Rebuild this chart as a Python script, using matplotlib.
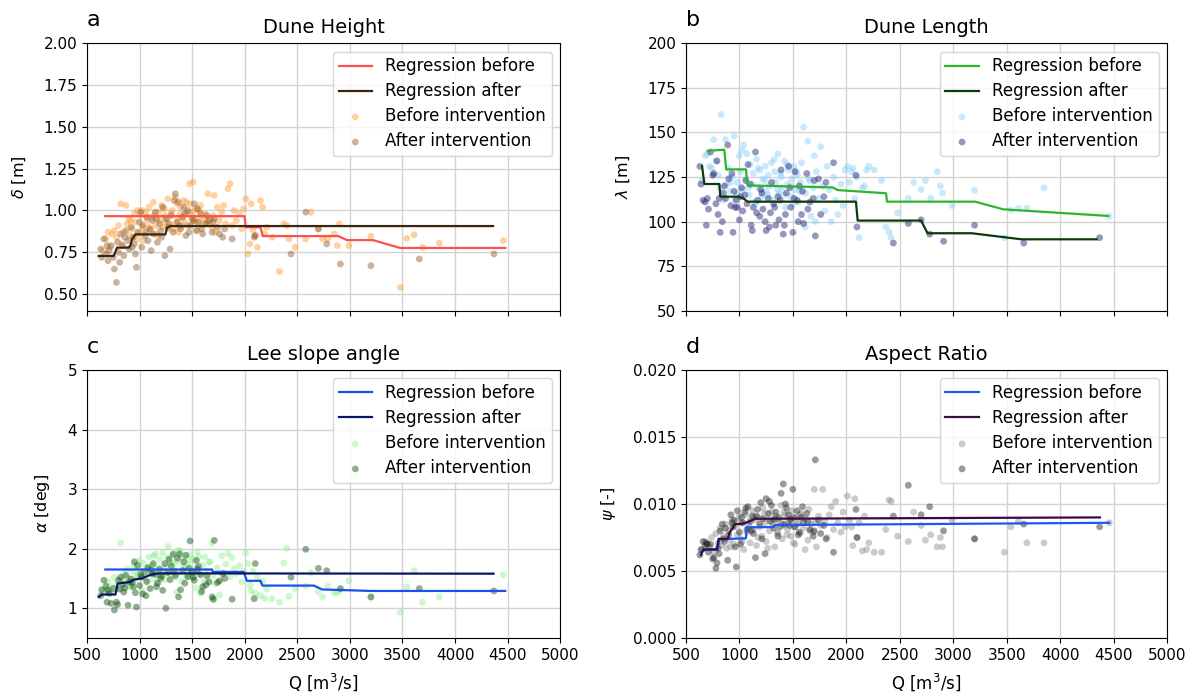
import matplotlib
matplotlib.use("Agg")
import matplotlib.pyplot as plt
import numpy as np

# ---------------- data ----------------
q_before = [650, 680, 700, 720, 740, 760, 780, 800, 820, 830,
            850, 870, 880, 900, 910, 930, 950, 960, 980, 1000,
            1010, 1030, 1040, 1060, 1070, 1090, 1100, 1120, 1130, 1150,
            1160, 1180, 1190, 1210, 1220, 1240, 1250, 1270, 1280, 1300,
            1310, 1330, 1340, 1360, 1370, 1390, 1400, 1420, 1430, 1450,
            1460, 1480, 1490, 1510, 1520, 1540, 1550, 1570, 1580, 1600,
            1620, 1640, 1650, 1670, 1690, 1700, 1720, 1740, 1760, 1780,
            1800, 1820, 1840, 1860, 1880, 1900, 1920, 1950, 1970, 1990,
            915, 975, 1025, 1085, 1135, 1175, 1235, 1265, 1325, 1355,
            1385, 1415, 1445, 1475, 1505, 1535, 1565, 1615, 1660, 1710,
            2010, 2030, 2050, 2060, 2080, 2100, 2120, 2150, 2170, 2190,
            2210, 2260, 2330, 2370, 2400, 2420, 2480, 2580, 2630, 2700,
            2740, 2790, 2850, 2880, 2900, 2990, 3200, 3480, 3540, 3610,
            3690, 3850, 4460]

q_after = [630, 640, 660, 680, 700, 710, 730, 750, 760, 780,
           790, 800, 820, 840, 850, 870, 890, 900, 920, 940,
           950, 970, 980, 1000, 1020, 1030, 1050, 1070, 1080, 1100,
           1120, 1130, 1150, 1170, 1190, 1200, 1220, 1240, 1250, 1270,
           1290, 1300, 1320, 1340, 1360, 1370, 1390, 1410, 1420, 1440,
           1460, 1480, 1500, 1520, 1540, 1560, 1580, 1600, 1630, 1660,
           1690, 1710, 1740, 1760, 1790, 1810, 1880, 2090, 2100, 2440,
           2580, 2700, 2780, 2910, 3200, 3660, 4370,
           860, 930, 1010, 1060, 1110, 1160, 1210, 1280, 1330, 1380,
           1430, 1470, 1510, 1550, 1590, 1640, 1700, 690, 810, 960]

height_before = [0.76, 0.83, 0.87, 0.78, 0.86, 0.88, 0.84, 0.91, 1.04, 0.80,
                 0.87, 1.03, 0.92, 0.95, 0.85, 0.89, 0.98, 0.93, 1.00, 0.87,
                 0.97, 0.90, 0.82, 0.99, 0.94, 1.02, 0.88, 0.96, 1.05, 0.91,
                 0.86, 0.99, 0.94, 1.03, 0.90, 0.97, 0.93, 1.07, 0.89, 0.98,
                 1.00, 0.92, 1.08, 0.95, 0.87, 1.02, 0.96, 1.06, 0.93, 0.99,
                 0.91, 1.04, 0.97, 1.17, 0.94, 1.01, 0.88, 0.96, 1.03, 0.92,
                 0.98, 0.93, 1.10, 0.95, 0.90, 0.97, 0.87, 1.02, 0.94, 0.99,
                 1.03, 0.92, 1.13, 1.16, 0.91, 1.00, 0.94, 0.98, 0.89, 1.01,
                 0.94, 0.83, 1.00, 0.90, 0.97, 0.85, 1.01, 0.95, 0.89, 1.04,
                 0.98, 0.91, 1.05, 1.16, 0.99, 0.93, 1.00, 0.95, 0.92, 1.09,
                 1.07, 0.74, 0.80, 1.04, 0.88, 0.85, 0.78, 1.06, 1.02, 0.86,
                 0.90, 0.84, 0.635, 0.92, 0.91, 0.83, 0.78, 0.83, 0.99, 0.89,
                 0.83, 0.83, 0.86, 0.79, 0.92, 0.79, 0.847, 0.54, 0.833, 0.855,
                 0.78, 0.805, 0.82]

height_after = [0.77, 0.72, 0.83, 0.74, 0.70, 0.76, 0.79, 0.72, 0.65, 0.57,
                0.81, 0.75, 0.86, 0.79, 0.73, 0.88, 0.82, 0.77, 0.90, 0.84,
                0.80, 0.66, 0.87, 0.93, 0.78, 0.91, 0.85, 0.96, 0.82, 0.89,
                0.94, 0.86, 0.99, 0.81, 0.92, 0.88, 1.02, 0.73, 0.95, 0.90,
                0.77, 0.97, 0.87, 1.10, 0.93, 1.05, 0.89, 0.96, 1.02, 0.85,
                1.00, 0.91, 0.95, 1.04, 0.88, 0.93, 0.98, 0.86, 0.92, 0.94,
                0.87, 0.95, 0.90, 0.86, 0.84, 0.89, 0.83, 0.84, 0.85, 0.74,
                0.99, 0.89, 0.80, 0.68, 0.67, 0.71, 0.74,
                0.84, 0.78, 0.99, 0.87, 0.76, 0.95, 0.84, 0.92, 1.06, 0.91,
                0.98, 0.87, 0.94, 1.01, 0.89, 0.97, 0.93, 0.79, 0.69, 0.74]

length_before = [123, 137, 138, 131, 130, 146, 134, 126, 119, 160,
                 112, 146, 121, 130, 117, 125, 148, 113, 122, 137,
                 128, 118, 143, 124, 138, 115, 132, 121, 127, 110,
                 135, 119, 129, 114, 124, 131, 117, 126, 120, 133,
                 112, 128, 122, 138, 116, 125, 119, 134, 108, 121,
                 129, 114, 124, 131, 118, 126, 111, 122, 133, 153,
                 116, 145, 124, 103, 119, 137, 128, 113, 142, 120,
                 106, 131, 118, 100, 125, 112, 104, 121, 109, 129,
                 122, 116, 140, 119, 111, 130, 123, 115, 135, 118,
                 127, 115, 132, 120, 110, 128, 117, 97, 123, 100,
                 131, 122, 128, 130, 113, 125, 91, 119, 120, 129,
                 131, 129, 123, 97, 94, 91, 105, 113, 122, 118,
                 123, 113, 128, 120, 116, 109, 117.5, 91, 106.5, 107.5,
                 107.5, 119, 103]

length_after = [131, 121, 112, 111, 113, 107, 139, 126, 127, 110,
                134, 104, 94, 100, 116, 113, 143, 124, 109, 94,
                117, 112, 108, 101, 119, 106, 115, 110, 132, 121,
                95, 108, 139, 112, 103, 118, 107, 100, 95, 113,
                105, 122, 110, 98, 114, 101, 129, 93, 98, 116,
                131, 108, 94, 128, 112, 120, 104, 99, 127, 111,
                113, 92, 124, 104, 114, 122, 133, 126, 97, 88,
                99, 101, 93, 89, 98, 88, 91,
                120, 127, 114, 123, 98, 105, 116, 97, 108, 112,
                104, 119, 113, 100, 117, 107, 123, 98, 113, 108]

lee_before = [1.28, 1.31, 1.45, 1.36, 1.25, 1.52, 1.40, 1.33, 2.09, 1.47,
              1.58, 1.42, 1.66, 1.50, 1.38, 1.62, 1.71, 1.47, 1.55, 1.80,
              1.63, 1.52, 1.75, 1.44, 1.68, 1.86, 1.58, 1.72, 1.49, 1.91,
              1.66, 1.54, 1.82, 1.61, 1.93, 1.48, 1.70, 2.04, 1.57, 1.76,
              1.88, 1.64, 1.52, 1.79, 1.97, 1.60, 1.45, 1.84, 1.69, 1.56,
              1.74, 1.90, 1.62, 1.51, 1.83, 1.67, 1.95, 1.58, 1.25, 1.72,
              1.86, 1.62, 1.49, 1.78, 2.09, 1.55, 1.41, 1.68, 1.22, 1.88,
              1.60, 1.74, 1.92, 1.53, 1.85, 1.66, 1.58, 1.71, 1.44, 1.62,
              1.35, 1.57, 1.30, 1.68, 1.88, 1.42, 1.60, 1.85, 1.75, 1.27,
              1.96, 1.70, 1.53, 1.81, 1.59, 1.34, 1.87, 1.45, 1.77, 1.15,
              1.93, 1.75, 1.39, 1.29, 1.62, 1.25, 1.52, 1.21, 1.45, 1.16,
              1.32, 1.16, 1.10, 1.76, 2.01, 1.20, 1.33, 1.37, 1.60, 1.28,
              1.19, 1.37, 1.26, 1.26, 1.30, 1.46, 1.18, 0.93, 1.36, 1.63,
              1.10, 1.19, 1.56]

lee_after = [1.21, 1.31, 1.47, 1.37, 1.30, 1.25, 1.08, 1.33, 0.97, 1.10,
             1.06, 1.47, 1.52, 1.40, 1.27, 1.55, 1.05, 1.44, 1.49, 1.36,
             1.78, 1.02, 1.72, 1.38, 1.52, 1.24, 1.61, 1.45, 1.68, 1.33,
             1.58, 1.75, 1.57, 1.42, 1.66, 1.50, 1.30, 1.75, 1.00, 1.60,
             1.48, 1.71, 1.91, 1.55, 1.84, 1.19, 1.31, 1.63, 1.78, 1.89,
             1.53, 2.13, 1.61, 1.47, 1.80, 1.70, 1.56, 1.36, 1.39, 1.44,
             1.19, 2.14, 1.43, 1.46, 1.58, 1.50, 1.15, 1.16, 1.75, 1.52,
             1.99, 1.67, 1.63, 1.33, 1.19, 1.33, 1.29,
             1.34, 1.43, 1.56, 1.21, 1.64, 1.36, 1.54, 1.82, 1.62, 1.91,
             1.42, 1.67, 1.52, 1.65, 1.28, 1.55, 1.15, 1.10, 1.32, 1.26]

aspect_before = [0.0066, 0.0072, 0.0070, 0.0068, 0.0075, 0.0064, 0.0078, 0.0071, 0.0082, 0.0069,
                 0.0076, 0.0085, 0.0067, 0.0080, 0.0073, 0.0088, 0.0070, 0.0083, 0.0077, 0.0091,
                 0.0074, 0.0086, 0.0066, 0.0092, 0.0079, 0.0084, 0.0071, 0.0095, 0.0081, 0.0088,
                 0.0069, 0.0090, 0.0083, 0.0076, 0.0097, 0.0086, 0.0072, 0.0089, 0.0080, 0.0094,
                 0.0085, 0.0068, 0.0091, 0.0078, 0.0087, 0.0099, 0.0074, 0.0084, 0.0092, 0.0081,
                 0.0088, 0.0076, 0.0095, 0.0083, 0.0070, 0.0090, 0.0086, 0.0078, 0.0093, 0.0082,
                 0.0089, 0.0073, 0.0096, 0.0085, 0.0079, 0.0111, 0.0068, 0.0091, 0.0084, 0.0111,
                 0.0087, 0.0075, 0.0092, 0.0098, 0.0081, 0.0102, 0.0086, 0.0079, 0.0094, 0.0083,
                 0.0068, 0.0087, 0.0072, 0.0082, 0.0090, 0.0075, 0.0093, 0.0067, 0.0088, 0.0079,
                 0.0086, 0.0094, 0.0077, 0.0089, 0.0071, 0.0085, 0.0092, 0.0066, 0.0080, 0.0087,
                 0.0106, 0.0088, 0.0083, 0.0069, 0.0104, 0.0075, 0.0086, 0.0065, 0.0091, 0.0066,
                 0.0071, 0.0064, 0.0064, 0.0081, 0.0103, 0.0102, 0.0076, 0.0072, 0.0094, 0.0084,
                 0.0073, 0.0077, 0.0068, 0.0075, 0.0068, 0.0088, 0.0074, 0.0064, 0.0083, 0.0087,
                 0.0071, 0.0071, 0.0086]

aspect_after = [0.0062, 0.0066, 0.0072, 0.0069, 0.0070, 0.0064, 0.0070, 0.0059, 0.0060, 0.0052,
                0.0056, 0.0067, 0.0080, 0.0085, 0.0074, 0.0082, 0.0058, 0.0077, 0.0092, 0.0083,
                0.0088, 0.0053, 0.0095, 0.0079, 0.0090, 0.0086, 0.0094, 0.0081, 0.0098, 0.0087,
                0.0091, 0.0078, 0.0060, 0.0096, 0.0085, 0.0101, 0.0089, 0.0063, 0.0104, 0.0093,
                0.0087, 0.0099, 0.0082, 0.0094, 0.0076, 0.0090, 0.0108, 0.0115, 0.0085, 0.0097,
                0.0092, 0.0088, 0.0111, 0.0083, 0.0095, 0.0079, 0.0090, 0.0086, 0.0093, 0.0081,
                0.0076, 0.0133, 0.0088, 0.0078, 0.0084, 0.0074, 0.0064, 0.0096, 0.0075, 0.0091,
                0.0114, 0.0092, 0.0098, 0.0080, 0.0074, 0.0085, 0.0083,
                0.0072, 0.0086, 0.0070, 0.0097, 0.0080, 0.0091, 0.0074, 0.0102, 0.0089, 0.0083,
                0.0100, 0.0084, 0.0090, 0.0077, 0.0098, 0.0087, 0.0080, 0.0071, 0.0063, 0.0068]

# regression lines (vertices)
reg_height_before_q = [674, 1997, 2010, 2149, 2171, 2891, 2971, 3218, 3478, 4477]
reg_height_before = [0.966, 0.966, 0.90, 0.90, 0.847, 0.847, 0.823, 0.823, 0.776, 0.776]
reg_height_after_q = [611, 754, 785, 897, 913, 928, 960, 1245, 1261, 1293, 4361]
reg_height_after = [0.728, 0.728, 0.778, 0.778, 0.792, 0.827, 0.857, 0.857, 0.897, 0.907, 0.907]

reg_length_before_q = [703, 858, 876, 1061, 1076, 1872, 1918, 2372, 2380, 3204, 3469, 4451]
reg_length_before = [139.7, 140.3, 129.3, 129.3, 120.3, 119.2, 117.7, 115.9, 111.2, 111.2, 106.9, 103.2]
reg_length_after_q = [650, 672, 812, 821, 997, 1040, 1076, 2090, 2106, 2700, 2760, 3173, 3640, 4341]
reg_length_after = [131.2, 121.1, 121.1, 114, 114, 112.9, 111.2, 111.2, 100.6, 100.6, 93.5, 93.5, 90.1, 90.1]

reg_lee_before_q = [674, 1689, 1695, 1990, 2020, 2149, 2168, 2656, 2736, 3200, 4477]
reg_lee_before = [1.65, 1.65, 1.61, 1.61, 1.46, 1.46, 1.38, 1.38, 1.315, 1.29, 1.29]
reg_lee_after_q = [611, 643, 770, 792, 912, 945, 1020, 1102, 1182, 4366]
reg_lee_after = [1.19, 1.23, 1.23, 1.415, 1.44, 1.48, 1.50, 1.56, 1.585, 1.58]

reg_aspect_before_q = [650, 690, 796, 812, 1061, 1068, 1320, 1330, 4461]
reg_aspect_before = [0.00644, 0.00662, 0.00662, 0.00737, 0.00744, 0.00826, 0.00828, 0.00843, 0.0086]
reg_aspect_after_q = [640, 660, 790, 805, 890, 910, 960, 1000, 1060, 1120, 1150, 4373]
reg_aspect_after = [0.0062, 0.0066, 0.0066, 0.0074, 0.0074, 0.0079, 0.0085, 0.0085, 0.0086, 0.0088, 0.0089, 0.0090]

x_ticks = [500, 1000, 1500, 2000, 2500, 3000, 3500, 4000, 4500, 5000]

panels = [
    dict(letter="a", title="Dune Height", ylabel=r"$\delta$ [m]",
         yb=height_before, ya=height_after,
         rbq=reg_height_before_q, rb=reg_height_before, raq=reg_height_after_q, ra=reg_height_after,
         cb="#ff9a2e", ca="#8b5a2b", lb="#ff4f4f", la="#3b2410",
         ylim=(0.4, 2.0), yticks=[0.5, 0.75, 1.0, 1.25, 1.5, 1.75, 2.0], fmt="{:.2f}"),
    dict(letter="b", title="Dune Length", ylabel=r"$\lambda$ [m]",
         yb=length_before, ya=length_after,
         rbq=reg_length_before_q, rb=reg_length_before, raq=reg_length_after_q, ra=reg_length_after,
         cb="#87cefa", ca="#191970", lb="#2db52d", la="#0b3a0b",
         ylim=(50, 200), yticks=[50, 75, 100, 125, 150, 175, 200], fmt="{:.0f}"),
    dict(letter="c", title="Lee slope angle", ylabel=r"$\alpha$ [deg]",
         yb=lee_before, ya=lee_after,
         rbq=reg_lee_before_q, rb=reg_lee_before, raq=reg_lee_after_q, ra=reg_lee_after,
         cb="#90ee90", ca="#0e4a0e", lb="#1a4ff0", la="#0c1466",
         ylim=(0.5, 5.0), yticks=[1, 2, 3, 4, 5], fmt="{:.0f}"),
    dict(letter="d", title="Aspect Ratio", ylabel=r"$\psi$ [-]",
         yb=aspect_before, ya=aspect_after,
         rbq=reg_aspect_before_q, rb=reg_aspect_before, raq=reg_aspect_after_q, ra=reg_aspect_after,
         cb="#8c8c8c", ca="#202020", lb="#1a5af0", la="#3a0c44",
         ylim=(0.0, 0.02), yticks=[0.0, 0.005, 0.01, 0.015, 0.02], fmt="{:.3f}"),
]

fig = plt.figure(figsize=(11.92, 6.97), dpi=100)
positions = [
    [0.073, 0.554, 0.397, 0.384],
    [0.5755, 0.554, 0.4035, 0.384],
    [0.073, 0.0847, 0.397, 0.3843],
    [0.5755, 0.0847, 0.4035, 0.3843],
]

for i, (p, pos) in enumerate(zip(panels, positions)):
    ax = fig.add_axes(pos)
    ax.scatter(q_before, p["yb"], s=24, color=p["cb"], alpha=0.45, edgecolors="none",
               label="Before intervention", zorder=2)
    ax.scatter(q_after, p["ya"], s=24, color=p["ca"], alpha=0.45, edgecolors="none",
               label="After intervention", zorder=2)
    ax.plot(p["rbq"], p["rb"], color=p["lb"], lw=1.6, label="Regression before", zorder=3)
    ax.plot(p["raq"], p["ra"], color=p["la"], lw=1.6, label="Regression after", zorder=3)
    ax.set_xlim(500, 5000)
    ax.set_ylim(*p["ylim"])
    ax.set_xticks(x_ticks)
    ax.set_yticks(p["yticks"])
    ax.set_yticklabels([p["fmt"].format(v) for v in p["yticks"]])
    ax.grid(True, color="#d3d3d3", linewidth=1.0, zorder=0)
    ax.set_axisbelow(True)
    ax.tick_params(labelsize=11)
    if i < 2:
        ax.tick_params(labelbottom=False)
    else:
        ax.set_xlabel(r"Q [m$^3$/s]", fontsize=12, labelpad=6)
    ax.set_ylabel(p["ylabel"], fontsize=11.5, labelpad=11)
    ax.set_title(p["title"], fontsize=14, pad=7)
    ax.text(0.0, 1.065, p["letter"], transform=ax.transAxes, fontsize=16,
            ha="left", va="baseline")
    handles, labels = ax.get_legend_handles_labels()
    order = [labels.index(n) for n in ["Regression before", "Regression after",
                                       "Before intervention", "After intervention"]]
    ax.legend([handles[k] for k in order], [labels[k] for k in order],
              loc="upper right", fontsize=12, labelspacing=0.42, borderpad=0.35,
              framealpha=0.8)

fig.savefig("out.png", dpi=100)
